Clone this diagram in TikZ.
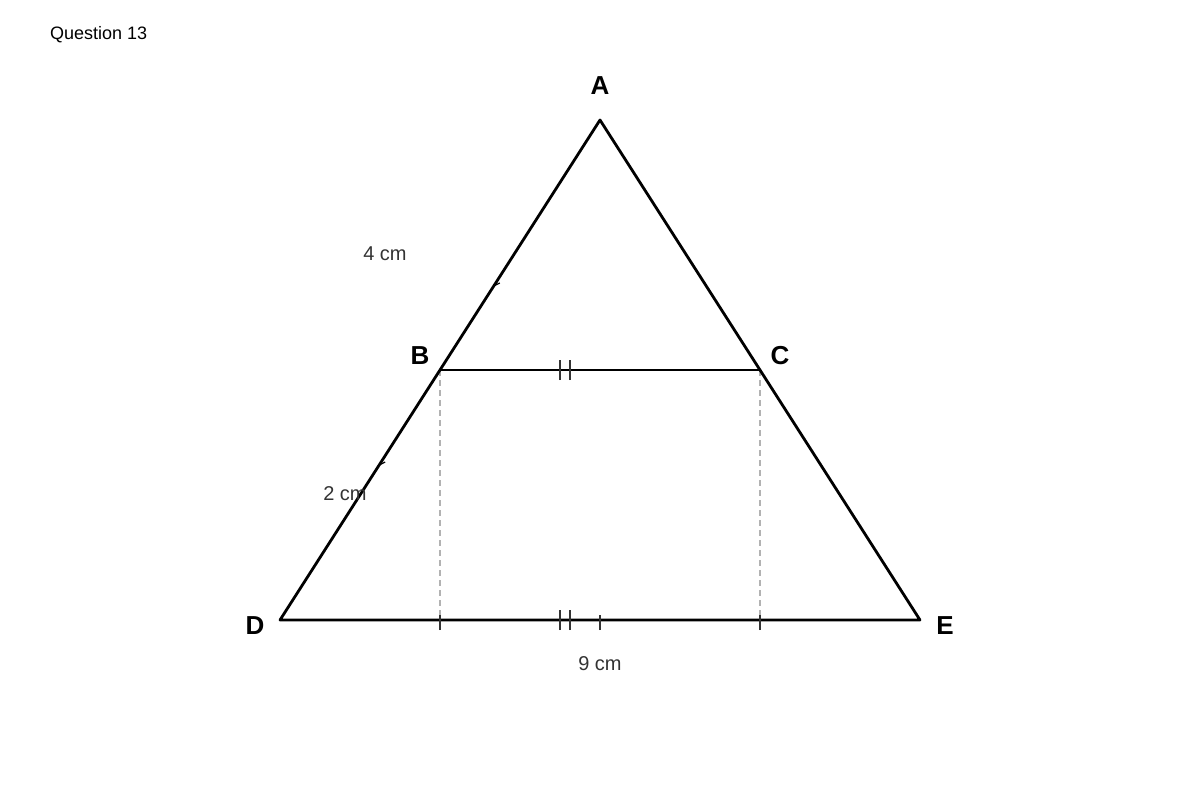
\documentclass[tikz,border=0pt]{standalone}
\usepackage{fontspec}
\setmainfont{Liberation Sans}
\begin{document}
\begin{tikzpicture}[x=1pt,y=-1pt,
  edge/.style={line width=2.8pt,black,line join=round},
  guide/.style={line width=1.2pt,gray!60,dash pattern=on 6pt off 4pt},
  tick/.style={line width=1.6pt,black!80},
  vlabel/.style={font=\bfseries\fontsize{26}{30}\selectfont,inner sep=0pt},
  mlabel/.style={font=\fontsize{20}{24}\selectfont,text=black!80,inner sep=0pt},
  title/.style={font=\fontsize{18}{22}\selectfont,inner sep=0pt,anchor=west}]
\useasboundingbox (0,0) rectangle (1200,800);
\coordinate (A) at (600,120);
\coordinate (B) at (440,370);
\coordinate (C) at (760,370);
\coordinate (D) at (280,620);
\coordinate (E) at (920,620);
\coordinate (Bf) at (440,620);
\coordinate (Cf) at (760,620);
\node[title] (q) at (50,35) {Question 13};
% guides
\draw[guide] (B) -- (Bf);
\draw[guide] (C) -- (Cf);
% triangle
\draw[edge] (D) -- (A) -- (E) -- cycle;
\draw[edge] (B) -- (C);
% ticks on BC
\coordinate (t1) at (560,370);
\coordinate (t2) at (570,370);
\draw[tick] ([yshift=-10pt]t1) -- ([yshift=10pt]t1);
\draw[tick] ([yshift=-10pt]t2) -- ([yshift=10pt]t2);
% ticks on DE
\coordinate (s1) at (560,620);
\coordinate (s2) at (570,620);
\coordinate (s3) at (600,620);
\draw[tick] ([yshift=-10pt]s1) -- ([yshift=10pt]s1);
\draw[tick] ([yshift=-10pt]s2) -- ([yshift=10pt]s2);
\draw[tick] ([yshift=-10pt]s3) -- ([yshift=5pt]s3);
\draw[tick] ([yshift=-10pt]Bf) -- ([yshift=5pt]Bf);
\draw[tick] ([yshift=-10pt]Cf) -- ([yshift=5pt]Cf);
% small marks on AB and BD
\coordinate (m1) at (493.8,286);
\coordinate (m2) at (379.2,465);
\draw[line width=1.2pt] (m1) -- ++(6,-3);
\draw[line width=1.2pt] (m2) -- ++(6,-3);
% labels
\node[vlabel] (lA) at (600,86) {A};
\node[vlabel] (lB) at (420,356) {B};
\node[vlabel] (lC) at (780,356) {C};
\node[vlabel] (lD) at (255,626) {D};
\node[vlabel] (lE) at (945,626) {E};
\node[mlabel] (l4) at (385,254) {4 cm};
\node[mlabel] (l2) at (345,494) {2 cm};
\node[mlabel] (l9) at (600,664) {9 cm};
\end{tikzpicture}
\end{document}
